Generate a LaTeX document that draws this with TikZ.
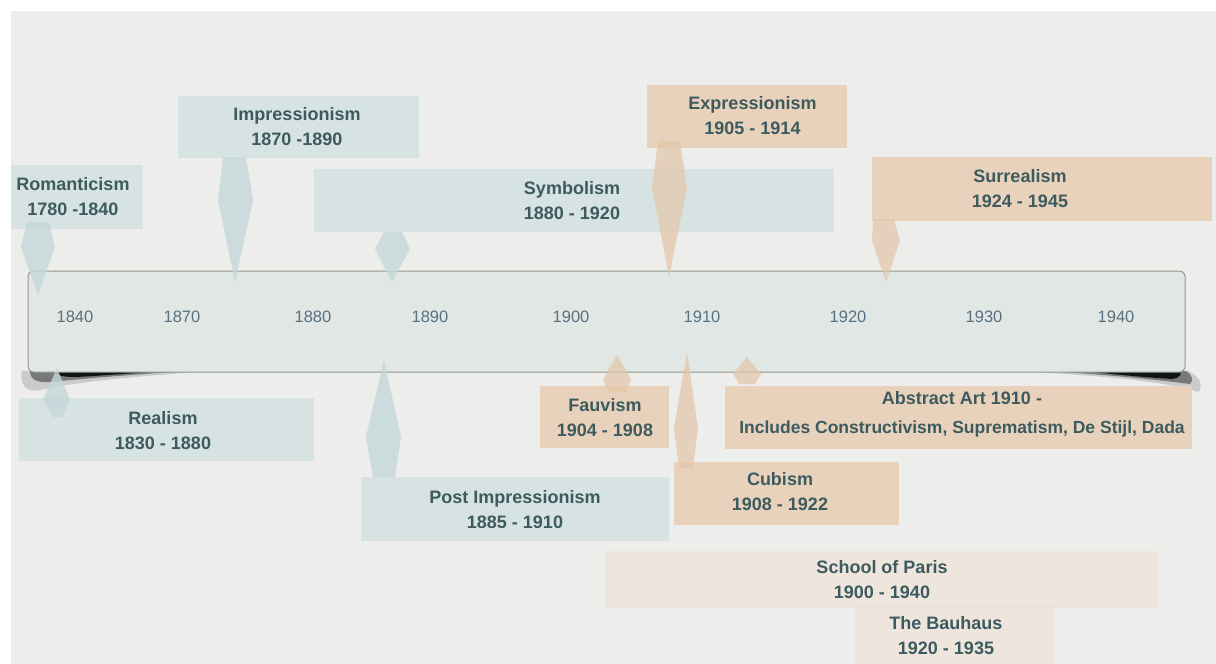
\documentclass[tikz,border=0pt]{standalone}
\usepackage{fontspec}
\setmainfont{Liberation Sans}
\definecolor{bg}{HTML}{EDEDEB}
\definecolor{barfill}{HTML}{E1E7E5}
\definecolor{barline}{HTML}{8F9B8D}
\definecolor{boxblue}{HTML}{D6E3E2}
\definecolor{boxorange}{HTML}{E8D2BC}
\definecolor{boxpale}{HTML}{EFDFD3}
\definecolor{markblue}{HTML}{C4D7D9}
\definecolor{markorange}{HTML}{E3C6A8}
\definecolor{txt}{HTML}{3D5B5E}
\definecolor{yeartxt}{HTML}{587080}
\tikzset{
  box/.style={rectangle, inner sep=0pt, draw=none},
  bluebox/.style={box, fill=boxblue},
  orangebox/.style={box, fill=boxorange},
  palebox/.style={box, fill=boxpale, fill opacity=.55},
  lbl/.style={align=center, text=txt, inner sep=0pt, font=\bfseries\fontsize{18}{25}\selectfont},
  yearlbl/.style={text=yeartxt, inner sep=0pt, font=\fontsize{16.5}{20}\selectfont},
  bmark/.style={fill=markblue, fill opacity=.8},
  omark/.style={fill=markorange, fill opacity=.7},
  shadowA/.style={fill=black, fill opacity=.14},
  shadowB/.style={fill=black, fill opacity=.4},
  shadowC/.style={fill=black, fill opacity=.85},
}
\begin{document}
\begin{tikzpicture}[x=1pt,y=-1pt]
\useasboundingbox (0,0) rectangle (1216,664);
\fill[white] (0,0) rectangle (1216,664);
\fill[bg] (11,11) rectangle (1216,664);

% curled shadow under the timeline bar (left)
\fill[shadowA] (22,371) -- (215,371) .. controls (150,375) and (80,381) .. (40,390)
  .. controls (27,393) and (19,385) .. (22,371) -- cycle;
\fill[shadowB] (30,371) -- (190,371) .. controls (140,374) and (90,378) .. (50,382)
  .. controls (38,383) and (30,380) .. (30,371) -- cycle;
\fill[shadowC] (55,371) -- (168,371) .. controls (130,373) and (100,376) .. (75,377)
  .. controls (62,377) and (55,375) .. (55,371) -- cycle;
% curled shadow under the timeline bar (right)
\fill[shadowA] (1010,371) -- (1188,371) .. controls (1200,376) and (1204,386) .. (1198,392)
  .. controls (1170,382) and (1100,375) .. (1010,371) -- cycle;
\fill[shadowB] (1045,371) -- (1186,371) .. controls (1192,375) and (1194,380) .. (1190,384)
  .. controls (1150,379) and (1100,374) .. (1045,371) -- cycle;
\fill[shadowC] (1085,371) -- (1180,371) .. controls (1182,374) and (1180,378) .. (1172,379)
  .. controls (1140,377) and (1110,374) .. (1085,371) -- cycle;

% timeline bar
\node[rectangle, rounded corners=5pt, fill=barfill, draw=barline, line width=1pt,
      minimum width=1157pt, minimum height=101pt, inner sep=0pt] (bar) at (606.5,321.5) {};
\node[yearlbl] (y1840) at (75,317) {1840};
\node[yearlbl] (y1870) at (182,317) {1870};
\node[yearlbl] (y1880) at (313,317) {1880};
\node[yearlbl] (y1890) at (430,317) {1890};
\node[yearlbl] (y1900) at (571,317) {1900};
\node[yearlbl] (y1910) at (702,317) {1910};
\node[yearlbl] (y1920) at (848,317) {1920};
\node[yearlbl] (y1930) at (984,317) {1930};
\node[yearlbl] (y1940) at (1116,317) {1940};

% boxes
\node[bluebox, minimum width=132pt, minimum height=64pt] (rom) at (77,197) {};
\node[bluebox, minimum width=241pt, minimum height=62pt] (imp) at (298.5,127) {};
\node[bluebox, minimum width=520pt, minimum height=63pt] (sym) at (574,200.5) {};
\node[orangebox, minimum width=200pt, minimum height=63pt] (exp) at (747,116.5) {};
\node[orangebox, minimum width=340pt, minimum height=64pt] (sur) at (1042,189) {};
\node[bluebox, minimum width=295pt, minimum height=63pt] (rea) at (166.5,429.5) {};
\node[bluebox, minimum width=308pt, minimum height=64pt] (pim) at (515,509) {};
\node[orangebox, minimum width=129pt, minimum height=62pt] (fau) at (604.5,417) {};
\node[orangebox, minimum width=225pt, minimum height=63pt] (cub) at (786.5,493.5) {};
\node[orangebox, minimum width=467pt, minimum height=63pt] (abs) at (958.5,417.5) {};
\node[palebox, minimum width=554pt, minimum height=57pt] (sop) at (882,579.5) {};
\node[palebox, minimum width=200pt, minimum height=60pt] (bau) at (955,634) {};

% markers
\fill[bmark] (27,222) -- (49,222) -- (55,247) -- (38,295) -- (21,247) -- cycle;
\fill[bmark] (223,157) -- (246,157) -- (253,200) -- (235,282) -- (218,200) -- cycle;
\fill[bmark] (384,232) -- (402,232) -- (410,249) -- (392,282) -- (375,249) -- cycle;
\fill[omark] (658,141) -- (680,141) -- (687,188) -- (669,277) -- (652,188) -- cycle;
\fill[omark] (873,219) -- (894,219) -- (900,241) -- (886,282) -- (872,241) -- cycle;
\fill[bmark] (57,368) -- (70,400) -- (62,417) -- (53,417) -- (43,400) -- cycle;
\fill[bmark] (384,360) -- (401,437) -- (395,477) -- (373,477) -- (366,437) -- cycle;
\fill[omark] (617,355) -- (631,379) -- (626,392) -- (608,392) -- (603,379) -- cycle;
\fill[omark] (687,352) -- (698,428) -- (693,468) -- (679,468) -- (674,428) -- cycle;
\fill[omark] (747,357) -- (761,374) -- (755,384) -- (739,384) -- (733,374) -- cycle;

% labels
\node[lbl] (rom-t) at (73,197) {Romanticism\\1780 -1840};
\node[lbl] (imp-t) at (297,127) {Impressionism\\1870 -1890};
\node[lbl] (sym-t) at (572,200.5) {Symbolism\\1880 - 1920};
\node[lbl] (exp-t) at (752.5,115.5) {Expressionism\\1905 - 1914};
\node[lbl] (sur-t) at (1020,189) {Surrealism\\1924 - 1945};
\node[lbl] (rea-t) at (163,430.5) {Realism\\1830 - 1880};
\node[lbl] (pim-t) at (515,509.5) {Post Impressionism\\1885 - 1910};
\node[lbl] (fau-t) at (605,417.5) {Fauvism\\1904 - 1908};
\node[lbl] (cub-t) at (780,492) {Cubism\\1908 - 1922};
\node[lbl] (abs-t) at (962,414) {Abstract Art 1910 -\\[4pt]{\fontsize{17.5}{25}\selectfont Includes Constructivism, Suprematism, De Stijl, Dada}};
\node[lbl] (sop-t) at (882,580) {School of Paris\\1900 - 1940};
\node[lbl] (bau-t) at (946,636) {The Bauhaus\\1920 - 1935};
\end{tikzpicture}
\end{document}
